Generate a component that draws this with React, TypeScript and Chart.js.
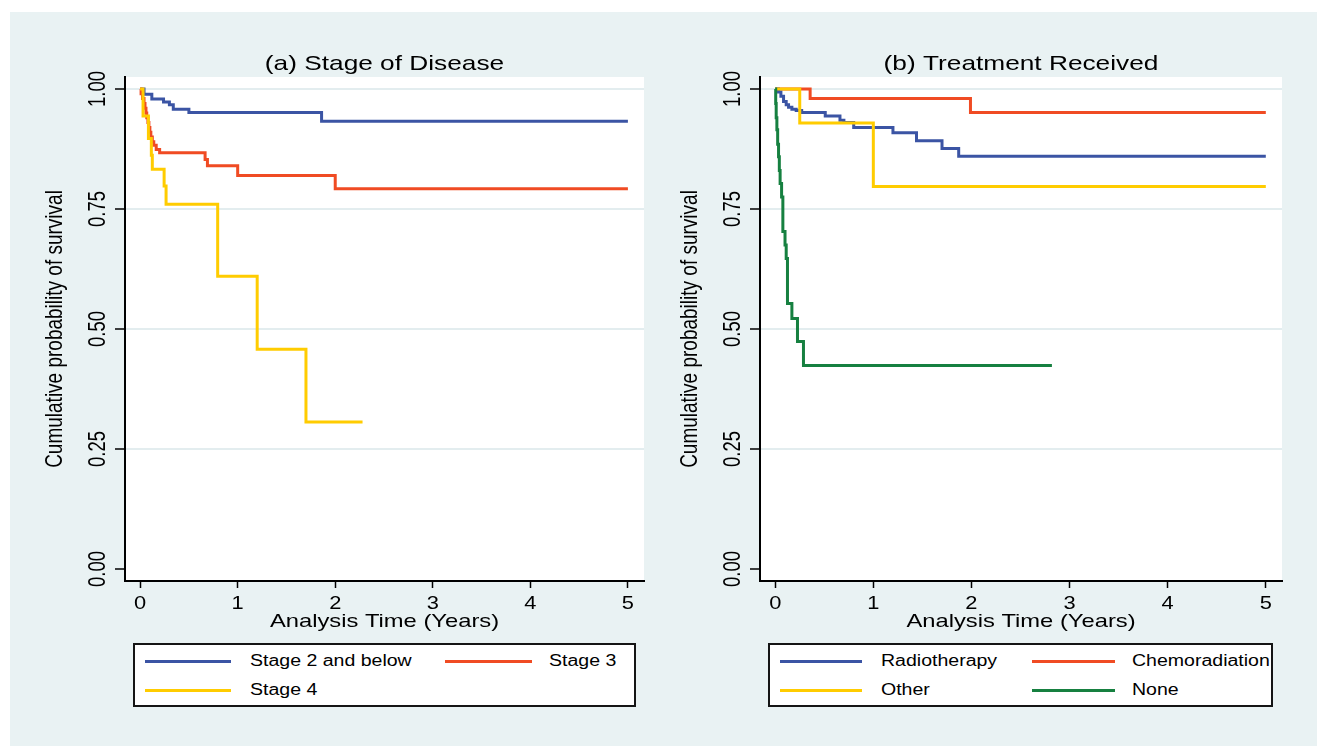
import React, { useEffect, useRef } from "react";
import { Chart, registerables } from "chart.js";

Chart.register(...registerables);

// ---------- Data ----------
const xTickValues = [0, 1, 2, 3, 4, 5];
const yTickValues = [0, 0.25, 0.5, 0.75, 1];
const yTickLabels = ["0.00", "0.25", "0.50", "0.75", "1.00"];

// (a) Stage of Disease
const stage2Times = [0, 0.04, 0.12, 0.24, 0.3, 0.34, 0.5, 1.86, 5.0];
const stage2Surv = [1, 0.989, 0.979, 0.973, 0.967, 0.958, 0.951, 0.933, 0.933];

const stage3Times = [0, 0.01, 0.025, 0.04, 0.05, 0.06, 0.068, 0.08, 0.09, 0.1, 0.11, 0.125, 0.14, 0.165, 0.2, 0.666, 0.69, 1.0, 2.0, 5.0];
const stage3Surv = [1, 0.99, 0.98, 0.97, 0.96, 0.95, 0.94, 0.93, 0.92, 0.91, 0.9, 0.89, 0.883, 0.874, 0.867, 0.853, 0.84, 0.82, 0.792, 0.792];

const stage4Times = [0, 0.03, 0.085, 0.115, 0.125, 0.246, 0.266, 0.795, 1.2, 1.7, 2.28];
const stage4Surv = [1, 0.944, 0.897, 0.862, 0.833, 0.798, 0.76, 0.61, 0.458, 0.306, 0.306];

// (b) Treatment Received
const radioTimes = [0, 0.034, 0.058, 0.085, 0.112, 0.136, 0.17, 0.214, 0.27, 0.51, 0.66, 0.7, 0.8, 1.2, 1.44, 1.7, 1.87, 5.0];
const radioSurv = [1, 0.994, 0.985, 0.974, 0.967, 0.962, 0.958, 0.955, 0.951, 0.944, 0.935, 0.93, 0.92, 0.909, 0.892, 0.876, 0.86, 0.86];

const chemoTimes = [0, 0.356, 1.99, 5.0];
const chemoSurv = [1, 0.98, 0.951, 0.951];

const otherTimes = [0, 0.25, 1.0, 5.0];
const otherSurv = [1, 0.929, 0.797, 0.797];

const noneTimes = [0, 0.005, 0.01, 0.017, 0.025, 0.034, 0.042, 0.05, 0.065, 0.078, 0.1, 0.112, 0.125, 0.17, 0.227, 0.288, 2.82];
const noneSurv = [1, 0.97, 0.94, 0.915, 0.885, 0.859, 0.83, 0.803, 0.775, 0.703, 0.675, 0.647, 0.553, 0.522, 0.474, 0.424, 0.424];

// ---------- Styling ----------
const BLUE = "#3b54a4";
const RED = "#f04b23";
const YELLOW = "#ffcc00";
const GREEN = "#168040";
const PANEL_BG = "#e9f2f3";
const GRID = "#e3edef";
const FONT = '"Liberation Sans", Arial, Helvetica, sans-serif';
const STRETCH = 1.25;

const toPoints = (t: number[], s: number[]) => t.map((x, i) => ({ x, y: s[i] }));

function drawText(
  ctx: CanvasRenderingContext2D,
  text: string,
  x: number,
  y: number,
  size: number,
  sx: number,
  rot = 0
) {
  ctx.save();
  ctx.translate(x, y);
  ctx.scale(sx, 1);
  if (rot) ctx.rotate(rot);
  ctx.font = `${size}px ${FONT}`;
  ctx.fillStyle = "#000";
  ctx.textAlign = "center";
  ctx.textBaseline = "middle";
  ctx.fillText(text, 0, 0);
  ctx.restore();
}

type DS = { label: string; times: number[]; surv: number[]; color: string; order: number };

function Panel({
  title,
  series,
  left,
  width,
  padLeft,
  padRight,
}: {
  title: string;
  series: DS[];
  left: number;
  width: number;
  padLeft: number;
  padRight: number;
}) {
  const ref = useRef<HTMLCanvasElement | null>(null);
  useEffect(() => {
    if (!ref.current) return;
    const textPlugin = {
      id: "panelText",
      beforeDraw(chart: any) {
        const { ctx, chartArea } = chart;
        ctx.save();
        ctx.fillStyle = "#ffffff";
        ctx.fillRect(chartArea.left, chartArea.top, chartArea.right - chartArea.left, chartArea.bottom - chartArea.top);
        ctx.restore();
      },
      afterDraw(chart: any) {
        const { ctx, chartArea } = chart;
        const xs = chart.scales.x;
        const ys = chart.scales.y;
        const cx = (chartArea.left + chartArea.right) / 2;
        const cy = (chartArea.top + chartArea.bottom) / 2;
        drawText(ctx, title, cx, chartArea.top - 13, 21, STRETCH);
        xs.ticks.forEach((t: any) => {
          drawText(ctx, String(t.value), xs.getPixelForValue(t.value), chartArea.bottom + 23, 19, 1.15);
        });
        drawText(ctx, "Analysis Time (Years)", cx, chartArea.bottom + 41, 19, STRETCH);
        ys.ticks.forEach((t: any) => {
          const idx = yTickValues.indexOf(t.value);
          const lab = idx >= 0 ? yTickLabels[idx] : String(t.value);
          drawText(ctx, lab, chartArea.left - 26, ys.getPixelForValue(t.value), 18.5, STRETCH, -Math.PI / 2);
        });
        drawText(ctx, "Cumulative probability of survival", chartArea.left - 70, cy, 19, STRETCH, -Math.PI / 2);
      },
    };

    const chart = new Chart(ref.current, {
      type: "line",
      data: {
        datasets: series.map((s) => ({
          label: s.label,
          data: toPoints(s.times, s.surv),
          borderColor: s.color,
          backgroundColor: s.color,
          borderWidth: 3,
          pointRadius: 0,
          stepped: "before",
          fill: false,
          order: s.order,
        })),
      },
      options: {
        animation: false,
        responsive: false,
        devicePixelRatio: 1,
        layout: { padding: { top: 77, left: padLeft, right: padRight, bottom: 49 } },
        plugins: { legend: { display: false }, tooltip: { enabled: false }, title: { display: false } },
        scales: {
          x: {
            type: "linear",
            min: -0.155,
            max: 5.165,
            afterBuildTicks: (scale: any) => {
              scale.ticks = xTickValues.map((v) => ({ value: v }));
            },
            afterFit: (scale: any) => {
              scale.height = 10;
            },
            ticks: { display: false },
            grid: {
              display: true,
              drawOnChartArea: false,
              drawTicks: true,
              tickLength: 7,
              tickColor: "#000",
              tickWidth: 1.5,
            },
            border: { display: true, color: "#000", width: 2 },
          },
          y: {
            type: "linear",
            min: -0.025,
            max: 1.025,
            afterBuildTicks: (scale: any) => {
              scale.ticks = yTickValues.map((v) => ({ value: v }));
            },
            afterFit: (scale: any) => {
              scale.width = 10;
            },
            ticks: { display: false },
            grid: {
              display: true,
              drawOnChartArea: true,
              drawTicks: true,
              color: (c: any) => (c.tick && c.tick.value === 0 ? "rgba(0,0,0,0)" : GRID),
              lineWidth: 2,
              tickLength: 10,
              tickColor: "#000",
              tickWidth: 1.5,
            },
            border: { display: true, color: "#000", width: 2 },
          },
        },
      },
      plugins: [textPlugin],
    } as any);
    return () => chart.destroy();
  }, []);
  return (
    <canvas
      ref={ref}
      width={width}
      height={640}
      style={{ position: "absolute", left, top: 0, width, height: 640 }}
    />
  );
}

type LegendItem = { color: string; x1: number; x2: number; tx: number; y: number; label: string };

function LegendBox({ left, top, width, height, items }: { left: number; top: number; width: number; height: number; items: LegendItem[] }) {
  return (
    <>
      <div
        style={{
          position: "absolute",
          left,
          top,
          width,
          height,
          boxSizing: "border-box",
          border: "2px solid #151515",
          background: "#fff",
        }}
      />
      {items.map((it, i) => (
        <React.Fragment key={i}>
          <div
            style={{
              position: "absolute",
              left: it.x1,
              top: it.y - 1.5,
              width: it.x2 - it.x1,
              height: 3,
              background: it.color,
            }}
          />
          <div
            style={{
              position: "absolute",
              left: it.tx,
              top: it.y - 10,
              height: 20,
              lineHeight: "20px",
              fontFamily: FONT,
              fontSize: 16,
              color: "#000",
              whiteSpace: "nowrap",
              transform: "scaleX(1.22)",
              transformOrigin: "left center",
            }}
          >
            {it.label}
          </div>
        </React.Fragment>
      ))}
    </>
  );
}

export default function App() {
  const leftSeries: DS[] = [
    { label: "Stage 2 and below", times: stage2Times, surv: stage2Surv, color: BLUE, order: 3 },
    { label: "Stage 3", times: stage3Times, surv: stage3Surv, color: RED, order: 2 },
    { label: "Stage 4", times: stage4Times, surv: stage4Surv, color: YELLOW, order: 1 },
  ];
  const rightSeries: DS[] = [
    { label: "Radiotherapy", times: radioTimes, surv: radioSurv, color: BLUE, order: 3 },
    { label: "Chemoradiation", times: chemoTimes, surv: chemoSurv, color: RED, order: 4 },
    { label: "Other", times: otherTimes, surv: otherSurv, color: YELLOW, order: 2 },
    { label: "None", times: noneTimes, surv: noneSurv, color: GREEN, order: 1 },
  ];
  return (
    <div style={{ position: "absolute", left: 0, top: 0, width: 1317, height: 746, background: "#fff", overflow: "hidden" }}>
      <div style={{ position: "absolute", left: 10, top: 12, width: 1307, height: 734, background: PANEL_BG }} />
      <Panel title="(a) Stage of Disease" series={leftSeries} left={0} width={660} padLeft={115} padRight={16} />
      <Panel title="(b) Treatment Received" series={rightSeries} left={660} width={657} padLeft={90} padRight={35} />
      <LegendBox
        left={133}
        top={643}
        width={503}
        height={64}
        items={[
          { color: BLUE, x1: 145, x2: 231, tx: 250, y: 661, label: "Stage 2 and below" },
          { color: RED, x1: 445, x2: 532, tx: 549, y: 661, label: "Stage 3" },
          { color: YELLOW, x1: 145, x2: 231, tx: 250, y: 690, label: "Stage 4" },
        ]}
      />
      <LegendBox
        left={768}
        top={643}
        width={505}
        height={64}
        items={[
          { color: BLUE, x1: 780, x2: 862, tx: 881, y: 661, label: "Radiotherapy" },
          { color: RED, x1: 1032, x2: 1115, tx: 1132, y: 661, label: "Chemoradiation" },
          { color: YELLOW, x1: 780, x2: 862, tx: 881, y: 690, label: "Other" },
          { color: GREEN, x1: 1032, x2: 1115, tx: 1132, y: 690, label: "None" },
        ]}
      />
    </div>
  );
}
